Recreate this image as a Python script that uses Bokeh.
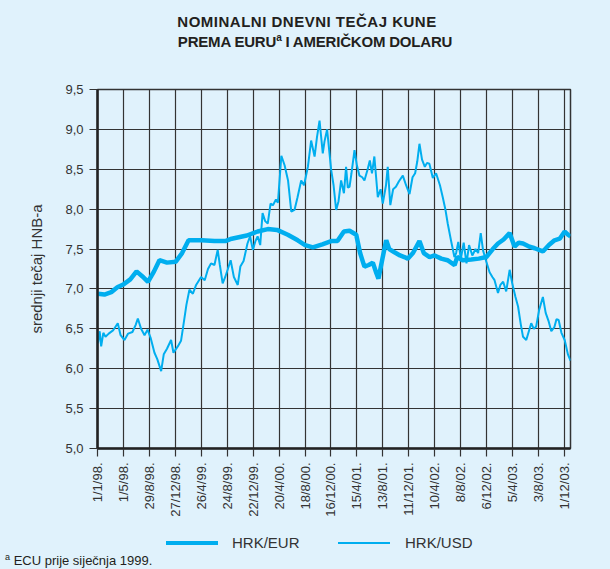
import numpy as np
from bokeh.plotting import figure
from bokeh.models import (Range1d, FixedTicker, Div, CustomJSTickFormatter)
from bokeh.layouts import column
from bokeh.embed import file_html
from bokeh.resources import INLINE

# ---------------- data ----------------
x_tick_days = [0, 120, 240, 360, 480, 600, 720, 840, 960, 1080, 1200, 1320,
               1440, 1560, 1680, 1800, 1920, 2040, 2160]
x_tick_labels = ["1/1/98.", "1/5/98.", "29/8/98.", "27/12/98.", "26/4/99.",
                 "24/8/99.", "22/12/99.", "20/4/00.", "18/8/00.", "16/12/00.",
                 "15/4/01.", "13/8/01.", "11/12/01.", "10/4/02.", "8/8/02.",
                 "6/12/02.", "5/4/03.", "3/8/03.", "1/12/03."]
y_ticks = [5.0, 5.5, 6.0, 6.5, 7.0, 7.5, 8.0, 8.5, 9.0, 9.5]

# days since 1/1/1998
eur_day = [0, 30, 62, 90, 120, 150, 179, 205, 232, 260, 285, 320, 360, 390,
           420, 480, 540, 590, 620, 690, 740, 787, 830, 880, 926, 960, 996,
           1040, 1081, 1110, 1140, 1166, 1197, 1215, 1235, 1255, 1274, 1290,
           1300, 1320, 1336, 1350, 1374, 1400, 1420, 1436, 1460, 1490, 1510,
           1537, 1560, 1591, 1620, 1653, 1665, 1690, 1730, 1765, 1800, 1830,
           1854, 1880, 1908, 1931, 1950, 1970, 2000, 2024, 2062, 2090, 2116,
           2140, 2163, 2178, 2190]
eur_val = [6.94, 6.93, 6.96, 7.02, 7.06, 7.12, 7.22, 7.16, 7.09, 7.22, 7.36,
           7.33, 7.34, 7.45, 7.61, 7.61, 7.60, 7.60, 7.63, 7.67, 7.72, 7.75,
           7.74, 7.68, 7.61, 7.55, 7.52, 7.56, 7.60, 7.60, 7.72, 7.73, 7.68,
           7.45, 7.28, 7.30, 7.33, 7.20, 7.13, 7.40, 7.61, 7.50, 7.46, 7.42,
           7.40, 7.38, 7.45, 7.60, 7.45, 7.40, 7.42, 7.38, 7.36, 7.30, 7.40,
           7.36, 7.37, 7.38, 7.40, 7.50, 7.57, 7.62, 7.70, 7.53, 7.58, 7.57,
           7.53, 7.51, 7.47, 7.55, 7.61, 7.63, 7.72, 7.68, 7.66]

usd_day = [0, 8, 15, 25, 35, 50, 70, 92, 105, 123, 140, 160, 175, 185, 200,
           216, 230, 245, 262, 275, 293, 305, 320, 339, 350, 370, 385, 393,
           410, 424, 440, 455, 478, 495, 510, 524, 540, 555, 565, 578, 590,
           601, 615, 630, 648, 660, 675, 693, 705, 718, 730, 740, 752, 763,
           775, 787, 800, 811, 825, 834, 850, 865, 881, 896, 911, 925, 942,
           955, 973, 988, 1004, 1015, 1027, 1042, 1050, 1062, 1081, 1092,
           1104, 1115, 1127, 1140, 1150, 1158, 1166, 1175, 1189, 1200, 1212,
           1225, 1235, 1250, 1260, 1270, 1281, 1297, 1310, 1320, 1335, 1343,
           1355, 1368, 1381, 1395, 1413, 1428, 1444, 1458, 1470, 1480, 1490,
           1502, 1515, 1525, 1536, 1552, 1567, 1585, 1598, 1610, 1621, 1636,
           1652, 1660, 1670, 1682, 1695, 1708, 1720, 1735, 1750, 1762, 1774,
           1785, 1800, 1815, 1828, 1838, 1854, 1865, 1878, 1892, 1908, 1920,
           1935, 1947, 1960, 1970, 1985, 1995, 2008, 2020, 2031, 2045, 2062,
           2075, 2088, 2101, 2115, 2125, 2135, 2148, 2163, 2178, 2190]
usd_val = [6.32, 6.47, 6.28, 6.45, 6.40, 6.44, 6.48, 6.57, 6.42, 6.36, 6.44,
           6.46, 6.55, 6.63, 6.50, 6.42, 6.49, 6.38, 6.20, 6.12, 5.97, 6.18,
           6.25, 6.36, 6.20, 6.28, 6.35, 6.49, 6.80, 6.99, 6.94, 7.05, 7.15,
           7.11, 7.25, 7.32, 7.30, 7.49, 7.30, 7.07, 7.15, 7.24, 7.36, 7.15,
           7.05, 7.28, 7.35, 7.57, 7.66, 7.49, 7.60, 7.66, 7.55, 7.95, 7.85,
           7.82, 8.07, 8.05, 8.12, 8.08, 8.67, 8.55, 8.36, 7.97, 7.99, 8.15,
           8.36, 8.30, 8.53, 8.86, 8.66, 8.90, 9.11, 8.70, 8.85, 9.00, 8.49,
           8.30, 7.99, 8.10, 8.36, 8.20, 8.53, 8.27, 8.28, 8.45, 8.74, 8.55,
           8.42, 8.40, 8.36, 8.50, 8.61, 8.45, 8.66, 8.15, 8.25, 8.07, 8.30,
           8.53, 8.05, 8.25, 8.28, 8.35, 8.42, 8.30, 8.19, 8.40, 8.45, 8.60,
           8.82, 8.62, 8.53, 8.58, 8.57, 8.39, 8.45, 8.30, 8.15, 8.00, 7.82,
           7.61, 7.40, 7.45, 7.59, 7.38, 7.58, 7.32, 7.55, 7.42, 7.50, 7.45,
           7.70, 7.48, 7.34, 7.21, 7.15, 7.11, 6.95, 7.05, 7.09, 6.97, 7.24,
           7.07, 6.90, 6.78, 6.55, 6.40, 6.36, 6.45, 6.57, 6.50, 6.53, 6.74,
           6.90, 6.70, 6.60, 6.47, 6.52, 6.62, 6.61, 6.45, 6.36, 6.18, 6.10]

series_names = ["HRK/EUR", "HRK/USD"]
title_line1 = "NOMINALNI DNEVNI TEČAJ KUNE"
title_line2a = "PREMA EURU"
title_line2b = "I AMERIČKOM DOLARU"
footnote = "ECU prije siječnja 1999."

# ---------------- styling ----------------
BG = "#E0F2FC"
CYAN = "#00AEEF"
DARK = "#333333"
TXT = "#231F20"
W = 594
TITLE_H = 56
FIG_H = 455
LEG_H = 34
FOOT_H = 16
FONT = "'Liberation Sans', Arial, sans-serif"

title_div = Div(
    text=(f'<div style="width:{W}px;font-family:{FONT};font-weight:bold;'
          f'font-size:15px;line-height:20px;color:{TXT};padding-top:4px;">'
          f'<div style="text-align:center;letter-spacing:0.5px;position:relative;left:2px;">{title_line1}</div>'
          f'<div style="text-align:center;letter-spacing:-0.2px;position:relative;left:10px;">{title_line2a}'
          f'<sup style="font-size:10px;vertical-align:6px;line-height:0;">a</sup> '
          f'{title_line2b}</div></div>'),
    width=W, height=TITLE_H, margin=(0, 0, 0, 0))

lab_style = (f"position:absolute;top:15px;font-family:{FONT};font-size:15px;"
             f"line-height:18px;color:{DARK};white-space:nowrap;")
legend_div = Div(
    text=(f'<div style="position:relative;width:{W}px;height:{LEG_H}px;">'
          f'<div style="position:absolute;left:158px;top:22px;width:52px;height:4px;background:{CYAN};"></div>'
          f'<span style="{lab_style}left:224px;">{series_names[0]}</span>'
          f'<div style="position:absolute;left:330px;top:23px;width:52px;height:2px;background:{CYAN};"></div>'
          f'<span style="{lab_style}left:397px;">{series_names[1]}</span>'
          f'</div>'),
    width=W, height=LEG_H, margin=(0, 0, 0, 0))

foot_div = Div(
    text=(f'<div style="font-family:{FONT};font-size:13px;line-height:16px;'
          f'color:{TXT};white-space:nowrap;margin-left:-3px;">'
          f'<sup style="font-size:9px;vertical-align:5px;line-height:0;">a</sup> {footnote}</div>'),
    width=W, height=FOOT_H, margin=(0, 0, 0, 0))

p = figure(width=W, height=FIG_H, output_backend="svg", toolbar_location=None,
           x_range=Range1d(-2, 2190), y_range=Range1d(5.0, 9.5),
           min_border_left=89, min_border_right=32, min_border_top=25,
           min_border_bottom=70, margin=(0, 0, 0, 0),
           background_fill_color=BG, border_fill_color=BG,
           outline_line_color=DARK, outline_line_width=1.5)

r_usd = p.line(usd_day, usd_val, line_width=2, line_color=CYAN)
r_eur = p.line(eur_day, eur_val, line_width=4.5, line_color=CYAN)

p.xgrid.ticker = FixedTicker(ticks=x_tick_days)
p.ygrid.ticker = FixedTicker(ticks=y_ticks)
for g in (p.xgrid, p.ygrid):
    g.grid_line_color = DARK
    g.grid_line_width = 1.2

p.xaxis.ticker = FixedTicker(ticks=x_tick_days)
p.xaxis.major_label_overrides = {d: l for d, l in zip(x_tick_days, x_tick_labels)}
p.xaxis.major_label_orientation = np.pi / 2
p.yaxis.ticker = FixedTicker(ticks=y_ticks)
p.yaxis.formatter = CustomJSTickFormatter(code="return tick.toFixed(1).replace('.', ',');")
p.yaxis.axis_label = "srednji tečaj HNB-a"
p.yaxis.axis_label_text_font = "Liberation Sans"
p.yaxis.axis_label_text_font_size = "15px"
p.yaxis.axis_label_text_font_style = "normal"
p.yaxis.axis_label_text_color = DARK
p.yaxis.axis_label_standoff = 17

for ax in (p.xaxis[0], p.yaxis[0]):
    ax.axis_line_color = "#222222"
    ax.axis_line_width = 2.5
    ax.major_tick_line_color = DARK
    ax.major_tick_line_width = 1.2
    ax.major_tick_out = 8
    ax.major_tick_in = 0
    ax.minor_tick_line_color = None
    ax.major_label_text_font = "Liberation Sans"
    ax.major_label_text_font_size = "13px"
    ax.major_label_text_color = DARK
    ax.major_label_standoff = 6

# the page's 8px margin, kept as the layout's own margin
layout = column(title_div, p, legend_div, foot_div, spacing=0, margin=(8, 0, 0, 8))

html = file_html(layout, INLINE)
css = (f"<style>html, body {{ background: {BG} !important; overflow: hidden !important; }}"
       f"</style></head>")
html = html.replace("</head>", css, 1)
open("out.html", "w").write(html)
